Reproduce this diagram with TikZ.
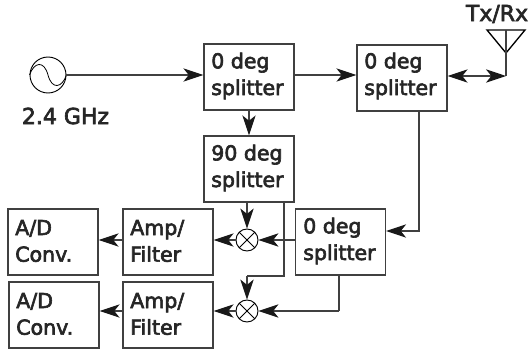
\documentclass[tikz,border=0pt]{standalone}
\usepackage{fontspec}
\setmainfont{DejaVu Sans}[BoldFont={DejaVu Sans},BoldFeatures={FakeBold=3}]
\usepackage{tikz}
\usetikzlibrary{arrows.meta}

\begin{document}
\begin{tikzpicture}[x=0.75pt,y=-0.75pt,>={Stealth[inset=4pt,length=15pt,width=10pt,black!90]}]
	\tikzstyle{block}=[draw=black!75,line width=0.9pt,minimum width=67.5pt,minimum height=49.5pt,inner sep=0pt]
	\tikzstyle{lbl}=[align=left,inner sep=0pt,font=\bfseries\fontsize{15.4}{20}\selectfont,text=black!85]
	\tikzstyle{biglbl}=[lbl,font=\bfseries\fontsize{16.5}{20}\selectfont]
	\tikzstyle{mixer}=[circle,draw=black,line width=0.7pt,minimum size=16.5pt,inner sep=0pt,
		path picture={\draw[black,line width=0.7pt] (path picture bounding box.north west) -- (path picture bounding box.south east)
			(path picture bounding box.north east) -- (path picture bounding box.south west);}]
	\tikzstyle{wire}=[draw=black!75,line width=0.9pt]
	\useasboundingbox (0,0) rectangle (529,351);
	% boxes
	\node[block](split1) at (249,77){};
	\node[block](split2) at (402,78){};
	\node[block](split90) at (249,169){};
	\node[block](split3) at (340.5,242){};
	\node[block](amp1) at (168,242){};
	\node[block](amp2) at (168,315){};
	\node[block](adc1) at (53,242){};
	\node[block](adc2) at (54,315){};
	% text
	\node[lbl,anchor=west] at (211,76){0 deg\\splitter};
	\node[lbl,anchor=west] at (364,76){0 deg\\splitter};
	\node[lbl,anchor=west] at (211,168){90 deg\\splitter};
	\node[lbl,anchor=west] at (303,241){0 deg\\splitter};
	\node[lbl,anchor=west] at (130,241){Amp/\\Filter};
	\node[lbl,anchor=west] at (130,314){Amp/\\Filter};
	\node[lbl,anchor=west] at (15,241){A/D\\Conv.};
	\node[lbl,anchor=west] at (16,314){A/D\\Conv.};
	\node[biglbl](freq) at (65.5,116){2.4 GHz};
	\node[biglbl](txrx) at (497,14){Tx/Rx};
	% source
	\node[circle,draw=black,line width=0.7pt,minimum size=27pt,inner sep=0pt](source) at (48,75){};
	\draw[black,line width=0.6pt] (source.west) .. controls (34,62) and (44,60) .. (48,75) .. controls (52,90) and (62,88) .. (source.east);
	% mixers
	\node[mixer](mix1) at (247,240){};
	\node[mixer](mix2) at (247,311){};
	% antenna
	\coordinate(ant) at (506,76);
	\coordinate(anttop) at (506,30);
	\draw[black,line width=1pt] (487,30) -- (525,30) -- (506,53) -- cycle;
	\path[wire] (anttop) -- (ant);
	% connectors
	\coordinate(b1) at (419,231);
	\coordinate(b2) at (284,276);
	\coordinate(b3) at (247,276);
	\coordinate(b4) at (339,311);
	\path[wire,->] (source) -- (source -| split1.west);
	\path[wire,->] (split1.east |- source) -- (split2.west |- source);
	\path[wire,<->] (split2.east |- ant) -- (ant);
	\path[wire,->] (split1) -- (split90);
	\path[wire,->] (split2.south -| b1) -- (b1) -- (b1 -| split3.east);
	\path[wire,->] (split90.south -| mix1) -- (mix1);
	\path[wire,-] (split90.south -| b2) -- (b2) -- (b3);
	\path[wire,->] (b3) -- (mix2);
	\path[wire,->] (split3.west |- mix1) -- (mix1);
	\path[wire,-] (split3.south -| b4) -- (b4);
	\path[wire,->] (b4) -- (mix2);
	\path[wire,->] (mix1) -- (mix1 -| amp1.east);
	\path[wire,->] (mix2) -- (mix2 -| amp2.east);
	\path[wire,->] (mix1 -| amp1.west) -- (mix1 -| adc1.east);
	\path[wire,->] (mix2 -| amp2.west) -- (mix2 -| adc2.east);
\end{tikzpicture}
\end{document}
